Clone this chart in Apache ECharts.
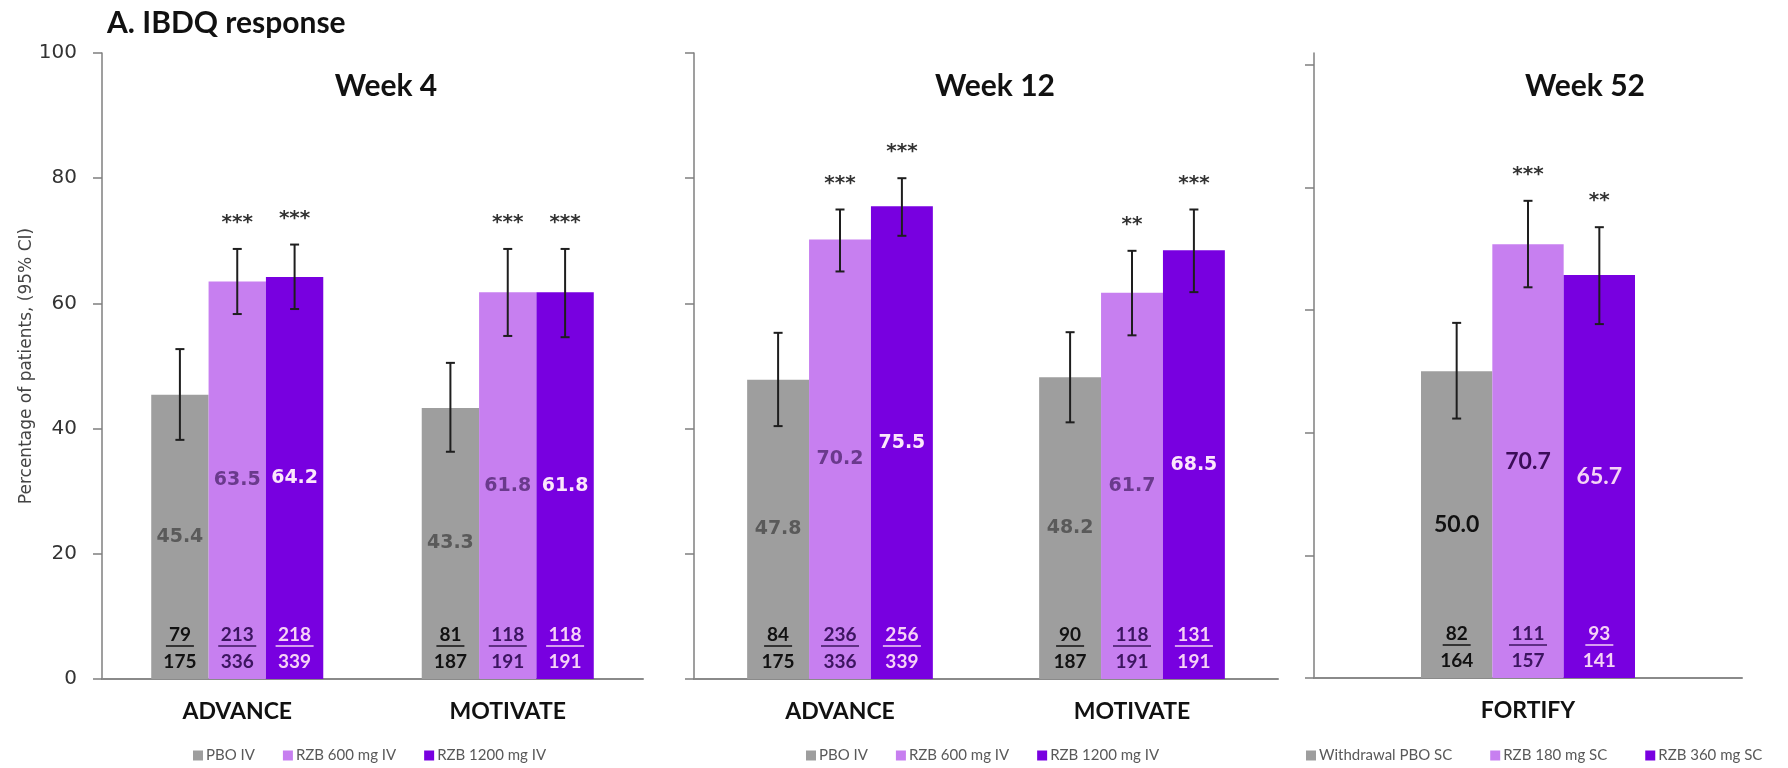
<!DOCTYPE html>
<html>
<head>
<meta charset="utf-8">
<script src="https://cdn.jsdelivr.net/npm/echarts@6/dist/echarts.min.js"></script>
<style>
  html, body { margin: 0; padding: 0; background: #ffffff; }
  #chart { width: 1788px; height: 768px; }
</style>
</head>
<body>
<div id="chart"></div>
<script>
// ---- data ----
const panelTitles = ['Week 4', 'Week 12', 'Week 52'];
const studyNames = [['ADVANCE', 'MOTIVATE'], ['ADVANCE', 'MOTIVATE'], ['FORTIFY']];
const armNames = [
  ['PBO IV', 'RZB 600 mg IV', 'RZB 1200 mg IV'],
  ['PBO IV', 'RZB 600 mg IV', 'RZB 1200 mg IV'],
  ['Withdrawal PBO SC', 'RZB 180 mg SC', 'RZB 360 mg SC']
];

// IBDQ response (%): one row per arm, one column per study
const week4Pct  = [[45.4, 43.3], [63.5, 61.8], [64.2, 61.8]];
const week12Pct = [[47.8, 48.2], [70.2, 61.7], [75.5, 68.5]];
const week52Pct = [[50.0], [70.7], [65.7]];

// 95% CI bounds
const week4Low   = [[38.2, 36.3], [58.3, 54.8], [59.1, 54.6]];
const week4High  = [[52.7, 50.5], [68.7, 68.7], [69.4, 68.7]];
const week12Low  = [[40.4, 41.0], [65.1, 54.9], [70.8, 61.8]];
const week12High = [[55.3, 55.4], [75.0, 68.4], [80.0, 75.0]];
const week52Low  = [[42.3], [63.7], [57.7]];
const week52High = [[57.9], [77.8], [73.5]];

// significance vs placebo
const week4Sig  = [['', ''], ['***', '***'], ['***', '***']];
const week12Sig = [['', ''], ['***', '**'], ['***', '***']];
const week52Sig = [[''], ['***'], ['**']];

// responders / patients
const week4Resp  = [[79, 81], [213, 118], [218, 118]];
const week4Total = [[175, 187], [336, 191], [339, 191]];
const week12Resp  = [[84, 90], [236, 118], [256, 131]];
const week12Total = [[175, 187], [336, 191], [339, 191]];
const week52Resp  = [[82], [111], [93]];
const week52Total = [[164], [157], [141]];

const yTicks = [0, 20, 40, 60, 80, 100];

const panels = [
  { pct: week4Pct,  low: week4Low,  high: week4High,  sig: week4Sig,  resp: week4Resp,  total: week4Total },
  { pct: week12Pct, low: week12Low, high: week12High, sig: week12Sig, resp: week12Resp, total: week12Total },
  { pct: week52Pct, low: week52Low, high: week52High, sig: week52Sig, resp: week52Resp, total: week52Total }
];

// ---- layout & styles ----
const grids = [
  { left: 102,  top: 53, width: 541, height: 626 },
  { left: 694,  top: 53, width: 584, height: 626 },
  { left: 1314, top: 53, width: 428, height: 625 }
];
// the right-hand panel's axis runs a little past its top tick
const axisTop = [100, 100, 101.9];
const categoryGap = [0.364, 0.364, 0.5];
const titleCenters = [386, 995, 1585];
const legendLefts = [188, 801, 1301];
const legendGaps = [28, 28, 38];

const armColors = ['#9e9e9e', '#c77ff0', '#7800e0'];
const countColors = ['#111111', '#3c1560', '#f6d2f6'];
const valueLabelStyles = [
  [
    { color: '#5a5a5a', fontFamily: 'DejaVu Sans', fontSize: 19, fontWeight: 'bold' },
    { color: '#6a3a8c', fontFamily: 'DejaVu Sans', fontSize: 19, fontWeight: 'bold' },
    { color: '#fbe6fb', fontFamily: 'DejaVu Sans', fontSize: 19, fontWeight: 'bold' }
  ],
  [
    { color: '#5a5a5a', fontFamily: 'DejaVu Sans', fontSize: 19, fontWeight: 'bold' },
    { color: '#6a3a8c', fontFamily: 'DejaVu Sans', fontSize: 19, fontWeight: 'bold' },
    { color: '#fbe6fb', fontFamily: 'DejaVu Sans', fontSize: 19, fontWeight: 'bold' }
  ],
  [
    { color: '#111111', fontFamily: 'Lato', fontSize: 23, fontWeight: 'bold' },
    { color: '#3a0c58', fontFamily: 'Lato', fontSize: 23, fontWeight: 'bold' },
    { color: '#f5d3f5', fontFamily: 'Lato', fontSize: 23, fontWeight: 'bold' }
  ]
];
const axisGray = '#8a8a8a';

const chart = echarts.init(document.getElementById('chart'), null, { renderer: 'canvas' });

const xAxes = [], yAxes = [], series = [], legends = [];

panels.forEach((P, k) => {
  xAxes.push({
    type: 'category', gridIndex: k, data: studyNames[k],
    axisTick: { show: false },
    axisLine: { lineStyle: { color: axisGray, width: 2 } },
    axisLabel: { margin: 21, color: '#111111', fontFamily: 'Lato', fontWeight: 'bold', fontSize: 23 }
  });
  yAxes.push({
    type: 'value', gridIndex: k, min: yTicks[0], max: axisTop[k], interval: 20,
    splitLine: { show: false },
    axisLine: { show: true, lineStyle: { color: '#7f7f7f', width: 1.5 } },
    axisTick: { show: true, length: 9, customValues: yTicks, lineStyle: { color: '#7f7f7f', width: 1.5 } },
    axisLabel: {
      show: k === 0, customValues: yTicks, margin: 25, color: '#333333', fontFamily: 'DejaVu Sans', fontSize: 20
    },
    name: k === 0 ? 'Percentage of patients, (95% CI)' : '',
    nameLocation: 'middle', nameGap: 64, nameRotate: 90,
    nameTextStyle: { color: '#444444', fontFamily: 'DejaVu Sans', fontSize: 17 }
  });

  armNames[k].forEach((name, a) => {
    series.push({
      type: 'bar', name, xAxisIndex: k, yAxisIndex: k,
      data: P.pct[a],
      barGap: '0%', barCategoryGap: (categoryGap[k] * 100) + '%',
      itemStyle: { color: armColors[a] },
      emphasis: { disabled: true },
      label: Object.assign({
        show: true, position: 'inside',
        formatter: p => Number(p.value).toFixed(1)
      }, valueLabelStyles[k][a])
    });
  });

  // error bars, significance marks and n/N counts
  const nCat = studyNames[k].length;
  const extra = [];
  for (let a = 0; a < 3; a++) for (let c = 0; c < nCat; c++) extra.push([c, P.high[a][c]]);
  series.push({
    type: 'custom', name: 'ci' + k, xAxisIndex: k, yAxisIndex: k, z: 10, silent: true, clip: false,
    data: extra, encode: { x: 0, y: 1 },
    renderItem(params, api) {
      const a = Math.floor(params.dataIndex / nCat), c = params.dataIndex % nCat;
      const band = api.size([1, 0])[0];
      const w = band * (1 - categoryGap[k]) / 3;
      const base = api.coord([c, 0]);
      const cx = base[0] + (a - 1) * w;
      const y0 = base[1];
      const yHi = api.coord([c, P.high[a][c]])[1];
      const yLo = api.coord([c, P.low[a][c]])[1];
      const ink = { stroke: '#1e1e1e', lineWidth: 2 };
      const children = [
        { type: 'line', shape: { x1: cx, y1: yHi, x2: cx, y2: yLo }, style: ink },
        { type: 'line', shape: { x1: cx - 4.5, y1: yHi, x2: cx + 4.5, y2: yHi }, style: ink },
        { type: 'line', shape: { x1: cx - 4.5, y1: yLo, x2: cx + 4.5, y2: yLo }, style: ink }
      ];
      if (P.sig[a][c]) {
        children.push({ type: 'text', style: {
          text: P.sig[a][c], x: cx, y: yHi - 26, textAlign: 'center', textVerticalAlign: 'middle',
          font: 'bold 20px "DejaVu Sans"', fill: '#333333' } });
      }
      const numText = String(P.resp[a][c]);
      const ulw = numText.length * 10 + 8;
      children.push(
        { type: 'text', style: {
          text: numText, x: cx, y: y0 - 44, textAlign: 'center', textVerticalAlign: 'middle',
          font: 'bold 19px Lato', fill: countColors[a] } },
        { type: 'line', shape: { x1: cx - ulw / 2, y1: y0 - 33, x2: cx + ulw / 2, y2: y0 - 33 },
          style: { stroke: countColors[a], lineWidth: 1.5 } },
        { type: 'text', style: {
          text: String(P.total[a][c]), x: cx, y: y0 - 17, textAlign: 'center', textVerticalAlign: 'middle',
          font: 'bold 19px Lato', fill: countColors[a] } }
      );
      return { type: 'group', children };
    }
  });

  legends.push({
    data: armNames[k], left: legendLefts[k], top: 743, orient: 'horizontal',
    icon: 'rect', itemWidth: 10, itemHeight: 10, itemGap: legendGaps[k],
    selectedMode: false,
    textStyle: { color: '#595959', fontFamily: 'Lato', fontSize: 15, padding: [0, 0, 0, -2] }
  });
});

const graphics = [
  { type: 'text', x: 107, y: 23, style: {
      text: 'A. IBDQ response', textVerticalAlign: 'middle', font: 'bold 30px Lato', fill: '#111111' } }
];
panelTitles.forEach((t, k) => {
  graphics.push({ type: 'text', x: titleCenters[k], y: 86, style: {
    text: t, textAlign: 'center', textVerticalAlign: 'middle', font: 'bold 30px Lato', fill: '#111111' } });
});

chart.setOption({
  animation: false,
  backgroundColor: '#ffffff',
  grid: grids,
  xAxis: xAxes,
  yAxis: yAxes,
  legend: legends,
  series,
  graphic: graphics
});
</script>
</body>
</html>
